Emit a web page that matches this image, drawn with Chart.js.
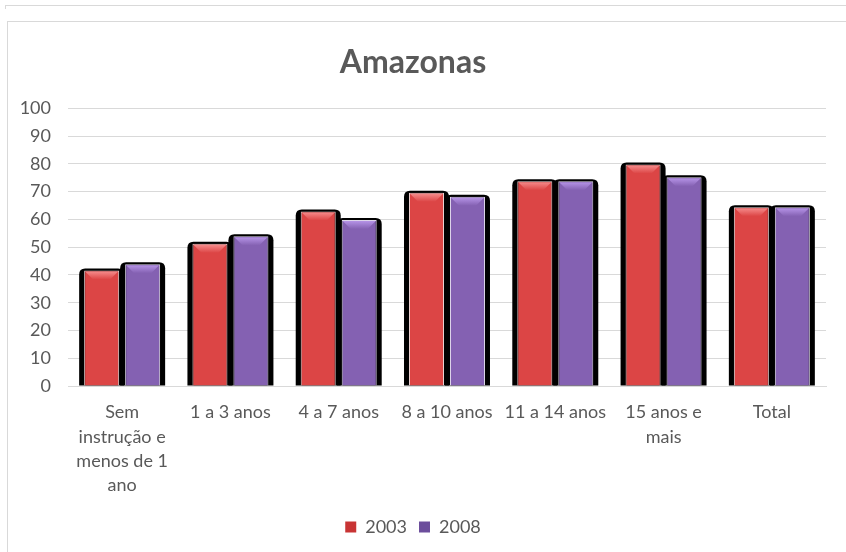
<!DOCTYPE html>
<html>
<head>
<meta charset="utf-8">
<script src="https://cdn.jsdelivr.net/npm/chart.js@4.4.0/dist/chart.umd.min.js"></script>
<style>
  html, body { margin:0; padding:0; background:#fff; }
  #wrap { position:relative; width:846px; height:552px; overflow:hidden; }
  #topline { position:absolute; left:5px; top:5px; width:841px; height:0; border-top:1px solid #d9d9d9; }
  #topstub { position:absolute; left:5px; top:5px; width:0; height:4px; border-left:1px solid #d9d9d9; }
  #frame { position:absolute; left:7px; top:21px; width:900px; height:600px; border-left:1px solid #d9d9d9; border-top:1px solid #d9d9d9; }
  canvas { position:absolute; left:0; top:0; }
</style>
</head>
<body>
<div id="wrap">
  <div id="topline"></div>
  <div id="topstub"></div>
  <div id="frame"></div>
  <canvas id="c" width="846" height="552"></canvas>
</div>
<script>
const chartTitle = "Amazonas";
const categories = [["Sem", "instrução e", "menos de 1", "ano"], "1 a 3 anos", "4 a 7 anos", "8 a 10 anos", "11 a 14 anos", ["15 anos e", "mais"], "Total"];
const seriesNames = ["2003", "2008"];
const values2003 = [41.6, 51.2, 62.9, 69.6, 73.8, 79.8, 64.4];
const values2008 = [43.9, 53.9, 59.8, 68.2, 73.8, 75.2, 64.4];
const yMin = 0, yMax = 100, yStep = 10;

const FONT = "Lato, 'Liberation Sans', sans-serif";
const TEXT = "#595959";

const palette = [
  { edge: "#b32e2e", mid: "#dc4545", top: "#f58a8a", border: "#ecd2d2", legend: "#c83434" },
  { edge: "#61468c", mid: "#8461b2", top: "#b593e6", border: "#ddd5ea", legend: "#6c4e9c" }
];

function faceGradient(ctx, idx) {
  const el = ctx.element;
  const p = palette[idx];
  if (!el || el.width === undefined || isNaN(el.x)) return p.mid;
  const c = ctx.chart.ctx;
  const l = el.x - el.width / 2, r = el.x + el.width / 2;
  const g = c.createLinearGradient(l, 0, r, 0);
  g.addColorStop(0, p.edge);
  g.addColorStop(0.18, p.mid);
  g.addColorStop(0.8, p.mid);
  g.addColorStop(1, p.edge);
  return g;
}

const shadowPlugin = {
  id: "barShadow",
  beforeDatasetsDraw(chart) {
    const c = chart.ctx;
    c.save();
    c.fillStyle = "#000";
    chart.data.datasets.forEach((ds, i) => {
      const meta = chart.getDatasetMeta(i);
      meta.data.forEach(el => {
        const { x, y, base, width } = el.getProps(["x", "y", "base", "width"], true);
        const l = x - width / 2 - 5, r = x + width / 2 + 5, t = y - 2, b = base;
        const rad = 6;
        c.beginPath();
        c.moveTo(l, b);
        c.lineTo(l, t + rad);
        c.quadraticCurveTo(l, t, l + rad, t);
        c.lineTo(r - rad, t);
        c.quadraticCurveTo(r, t, r, t + rad);
        c.lineTo(r, b);
        c.closePath();
        c.fill();
      });
    });
    c.restore();
  },
  afterDatasetsDraw(chart) {
    const c = chart.ctx;
    c.save();
    chart.data.datasets.forEach((ds, i) => {
      const p = palette[i];
      const meta = chart.getDatasetMeta(i);
      meta.data.forEach(el => {
        const { x, y, width } = el.getProps(["x", "y", "width"], true);
        const l = x - width / 2 + 1, r = x + width / 2 - 1, t = y + 1, d = 8;
        const g = c.createLinearGradient(0, t, 0, t + d);
        g.addColorStop(0, p.top);
        g.addColorStop(1, p.mid);
        c.fillStyle = g;
        c.beginPath();
        c.moveTo(l, t);
        c.lineTo(r, t);
        c.lineTo(r - d, t + d);
        c.lineTo(l + d, t + d);
        c.closePath();
        c.fill();
      });
    });
    c.restore();
  }
};

new Chart(document.getElementById("c"), {
  type: "bar",
  data: {
    labels: categories,
    datasets: [
      { label: seriesNames[0], data: values2003, backgroundColor: ctx => faceGradient(ctx, 0), borderColor: palette[0].border, borderWidth: 1 },
      { label: seriesNames[1], data: values2008, backgroundColor: ctx => faceGradient(ctx, 1), borderColor: palette[1].border, borderWidth: 1 }
    ]
  },
  options: {
    responsive: false,
    animation: false,
    events: [],
    layout: { padding: { left: 0, right: 20, top: 0, bottom: 6 } },
    datasets: { bar: { categoryPercentage: 0.757, barPercentage: 0.854 } },
    plugins: {
      title: {
        display: true, text: chartTitle, color: TEXT,
        font: { family: FONT, size: 32, weight: "bold" },
        padding: { top: 43, bottom: 27 }
      },
      legend: {
        position: "bottom",
        labels: {
          color: TEXT, font: { family: FONT, size: 18 },
          boxWidth: 11, boxHeight: 11, padding: 12,
          generateLabels: chart => chart.data.datasets.map((ds, i) => ({
            text: ds.label, fillStyle: palette[i].legend, strokeStyle: palette[i].legend,
            lineWidth: 0, datasetIndex: i, fontColor: TEXT
          }))
        }
      },
      tooltip: { enabled: false }
    },
    scales: {
      x: {
        afterFit: s => { s.height = 120; },
        grid: { display: false, drawTicks: false },
        border: { display: true, color: "#d9d9d9", width: 1 },
        ticks: { color: TEXT, font: { family: FONT, size: 18, lineHeight: 1.36 }, padding: 14, maxRotation: 0, autoSkip: false }
      },
      y: {
        min: yMin, max: yMax,
        afterFit: s => { s.width = 68; },
        grid: { color: "#d9d9d9", drawTicks: false },
        border: { display: false },
        ticks: { stepSize: yStep, color: TEXT, font: { family: FONT, size: 18 }, padding: 17 }
      }
    }
  },
  plugins: [shadowPlugin]
});
</script>
</body>
</html>
